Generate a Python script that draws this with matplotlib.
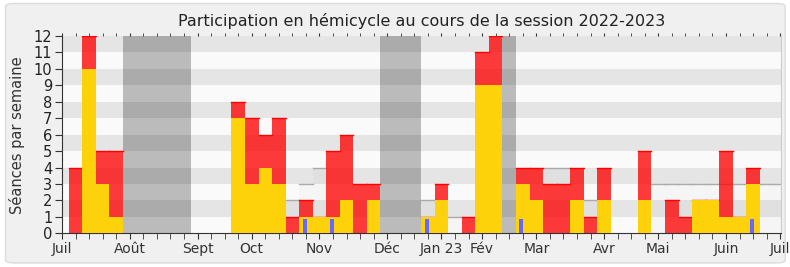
import numpy as np
import matplotlib
matplotlib.use("Agg")
import matplotlib.pyplot as plt
from matplotlib.patches import FancyBboxPatch

# weekly values, week 0 = first week of July 2022
weeks = np.arange(54)
total = [0, 4, 12, 5, 5, 0, 0, 0, 0, 0,
         0, 0, 0, 8, 7, 6, 7, 1, 2, 1,
         5, 6, 3, 3, 0, 0, 0, 1, 3, 0,
         1, 11, 12, 0, 4, 4, 3, 3, 4, 1,
         4, 0, 0, 5, 0, 2, 1, 2, 2, 5,
         1, 4, 0, 0]
present = [0, 0, 10, 3, 1, 0, 0, 0, 0, 0,
           0, 0, 0, 7, 3, 4, 3, 0, 1, 1,
           1, 2, 0, 2, 0, 0, 0, 1, 2, 0,
           0, 9, 9, 0, 3, 2, 0, 0, 2, 0,
           2, 0, 0, 2, 0, 0, 0, 2, 2, 1,
           1, 3, 0, 0]
max_group = [0, 0, 0, 0, 0, 0, 0, 0, 0, 0,
             0, 0, 0, 0, 0, 0, 0, 2, 3, 4,
             0, 0, 0, 0, 0, 0, 0, 2, 0, 1,
             0, 0, 0, 0, 0, 0, 4, 4, 0, 2,
             0, 0, 0, 0, 3, 3, 3, 3, 3, 3,
             3, 3, 3, 3]
question_weeks = [18, 20, 27, 34, 51]
question_vals = [0.85, 0.85, 0.85, 0.85, 0.85]
vacances = [(4.5, 9.5), (23.5, 26.5), (32.5, 33.5)]
month_pos = [0, 5, 10, 14, 19, 24, 28, 31, 35, 40, 44, 49, 53]
month_lbl = ["Juil", "Août", "Sept", "Oct", "Nov", "Déc", "Jan 23", "Fév",
             "Mar", "Avr", "Mai", "Juin", "Juil"]

fig = plt.figure(figsize=(7.9, 2.67), dpi=100)
fig.patch.set_facecolor("white")
frame = FancyBboxPatch((0.007, 0.015), 0.987, 0.972,
                       boxstyle="round,pad=0,rounding_size=0.012",
                       transform=fig.transFigure, facecolor="#f0f0f0",
                       edgecolor="#dcdcdc", linewidth=1, zorder=-10)
fig.patches.append(frame)

ax = fig.add_axes([0.0785, 0.126, 0.910, 0.739])
ax.set_facecolor("#fafafa")
ax.set_xlim(0, 53.05)
ax.set_ylim(0, 12)

# horizontal stripes
for i in range(1, 12, 2):
    ax.axhspan(i, i + 1, color="#e5e5e5", lw=0, zorder=0)

# holidays
for a, b in vacances:
    ax.axvspan(a, b, color="black", alpha=0.25, lw=0, zorder=1)

# light area with grey outline
edges = np.append(weeks - 0.5, weeks[-1] + 0.5)
mg = np.array(max_group, dtype=float)
ax.stairs(mg, edges, fill=True, color="black", alpha=0.02, zorder=1.5)
for w, v in zip(weeks, mg):
    if v > 0:
        ax.plot([w - 0.5, w + 0.5], [v, v], color="#aaaaaa", lw=1, zorder=1.6)

# bars
ax.bar(weeks, total, width=1.0, color="#ff0000", alpha=0.77, lw=0, zorder=2)
for w, v in zip(weeks, total):
    if v > 0:
        ax.plot([w - 0.5, w + 0.5], [v, v], color="#ff0000", lw=1, zorder=2.1)
ax.bar(weeks, present, width=1.0, color="#fdd20a", lw=0, zorder=3)
ax.bar(np.array(question_weeks) - 0.1, question_vals, width=0.3,
       color="#6868ff", lw=0, zorder=4)

# axes cosmetics
ax.spines["top"].set_visible(False)
ax.spines["right"].set_color("#cccccc")
ax.spines["left"].set_color("#333333")
ax.spines["bottom"].set_color("#333333")

ax.set_yticks(range(0, 13))
ax.set_xticks(month_pos)
ax.set_xticklabels(month_lbl)
ax.set_xticks(np.arange(0, 54), minor=True)
ax.tick_params(axis="y", length=5, color="#333333", labelsize=10.5,
               labelcolor="#222222", pad=2)
ax.tick_params(axis="x", which="both", length=4, color="#333333",
               top=True, labeltop=False, direction="out",
               labelsize=10, labelcolor="#333333", pad=2)
for t in ax.xaxis.get_major_ticks() + ax.xaxis.get_minor_ticks():
    t.tick2line.set_markersize(2)

ax.set_ylabel("Séances par semaine", fontsize=10.5, color="#333333", labelpad=6)
ax.set_title("Participation en hémicycle au cours de la session 2022-2023",
             fontsize=11.5, color="#222222", pad=7)

fig.savefig("out.png", dpi=100, facecolor=fig.get_facecolor())
